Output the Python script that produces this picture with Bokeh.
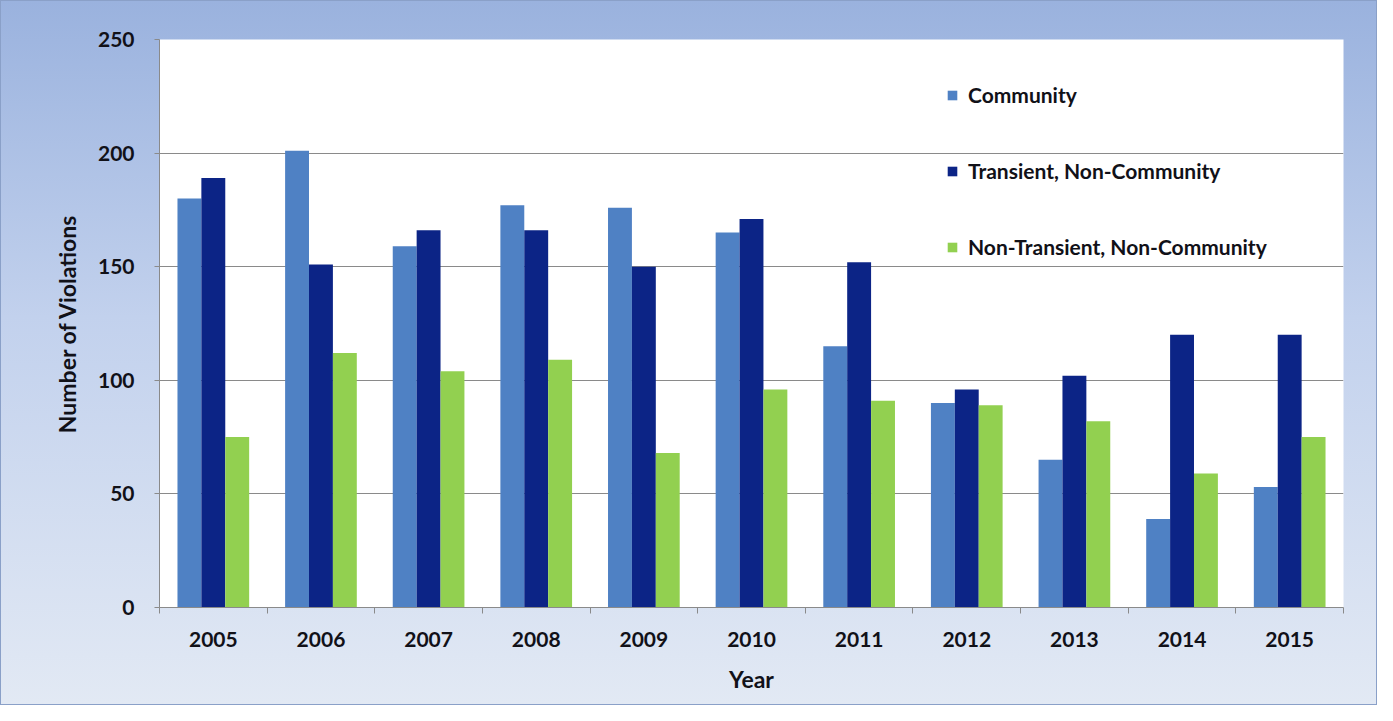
from bokeh.plotting import figure
from bokeh.models import Range1d, FixedTicker, Legend, LegendItem, ColumnDataSource
from bokeh.embed import file_html
from bokeh.resources import INLINE

years = ["2005", "2006", "2007", "2008", "2009", "2010", "2011", "2012", "2013", "2014", "2015"]
community = [180, 201, 159, 177, 176, 165, 115, 90, 65, 39, 53]
transient = [189, 151, 166, 166, 150, 171, 152, 96, 102, 120, 120]
non_transient = [75, 112, 104, 109, 68, 96, 91, 89, 82, 59, 75]
series_names = ["Community", "Transient, Non-Community", "Non-Transient, Non-Community"]
series_colors = ["#4f81c4", "#0c2486", "#92d050"]
y_ticks = [0, 50, 100, 150, 200, 250]

FONT = "Lato"
TXT = "#111118"

n = len(years)
centers = [i + 0.5 for i in range(n)]
bar_w = 0.222

p = figure(width=1377, height=705, output_backend="svg", toolbar_location=None,
           x_range=Range1d(0, n), y_range=Range1d(0, 250),
           min_border_left=158, min_border_right=35, min_border_top=38, min_border_bottom=99)
p.styles = {"background-image": "linear-gradient(to bottom, #9ab2de 0%, #c2d1ed 45%, #e2e9f4 100%)",
            "border": "1px solid #8aa0c8"}
p.border_fill_alpha = 0
p.background_fill_color = "white"
p.outline_line_color = None

renderers = []
for k, (vals, col) in enumerate(zip([community, transient, non_transient], series_colors)):
    src = ColumnDataSource(dict(x=[c + (k - 1) * bar_w for c in centers], top=vals))
    r = p.vbar(x="x", top="top", width=bar_w, bottom=0, source=src,
               fill_color=col, line_color=None)
    renderers.append(r)

# x axis: labels at centres, tick marks at category boundaries
xa = p.xaxis[0]
xa.ticker = FixedTicker(ticks=centers, minor_ticks=list(range(n + 1)))
xa.major_label_overrides = {c: y for c, y in zip(centers, years)}
xa.major_tick_line_color = None
xa.major_tick_out = 0
xa.major_tick_in = 0
xa.minor_tick_line_color = "#8a8a8a"
xa.minor_tick_out = 6
xa.minor_tick_in = 0
xa.axis_line_color = "#8a8a8a"
xa.major_label_standoff = 18
xa.major_label_text_font = FONT
xa.major_label_text_font_style = "bold"
xa.major_label_text_font_size = "21px"
xa.major_label_text_color = TXT
xa.axis_label = "Year"
xa.axis_label_text_font = FONT
xa.axis_label_text_font_style = "bold"
xa.axis_label_text_font_size = "23px"
xa.axis_label_text_color = TXT
xa.axis_label_standoff = 15

ya = p.yaxis[0]
ya.ticker = FixedTicker(ticks=y_ticks)
ya.minor_tick_line_color = None
ya.major_tick_out = 5
ya.major_tick_in = 0
ya.major_tick_line_color = "#8a8a8a"
ya.axis_line_color = "#8a8a8a"
ya.major_label_standoff = 20
ya.major_label_text_font = FONT
ya.major_label_text_font_style = "bold"
ya.major_label_text_font_size = "21px"
ya.major_label_text_color = TXT
ya.axis_label = "Number of Violations"
ya.axis_label_text_font = FONT
ya.axis_label_text_font_style = "bold"
ya.axis_label_text_font_size = "23px"
ya.axis_label_text_color = TXT
ya.axis_label_standoff = 14

p.xgrid.grid_line_color = None
p.ygrid.ticker = FixedTicker(ticks=y_ticks)
p.ygrid.grid_line_color = "#8a8a8a"
p.ygrid.grid_line_width = 1

legend = Legend(items=[LegendItem(label=nm, renderers=[r]) for nm, r in zip(series_names, renderers)],
                location=(787, 348), padding=0, margin=0, spacing=51,
                glyph_width=12, glyph_height=12, label_height=20, label_standoff=10,
                background_fill_alpha=0, border_line_color=None,
                label_text_font=FONT, label_text_font_style="bold",
                label_text_font_size="21px", label_text_color=TXT)
p.add_layout(legend, "center")

open("out.html", "w").write(file_html(p, INLINE))
